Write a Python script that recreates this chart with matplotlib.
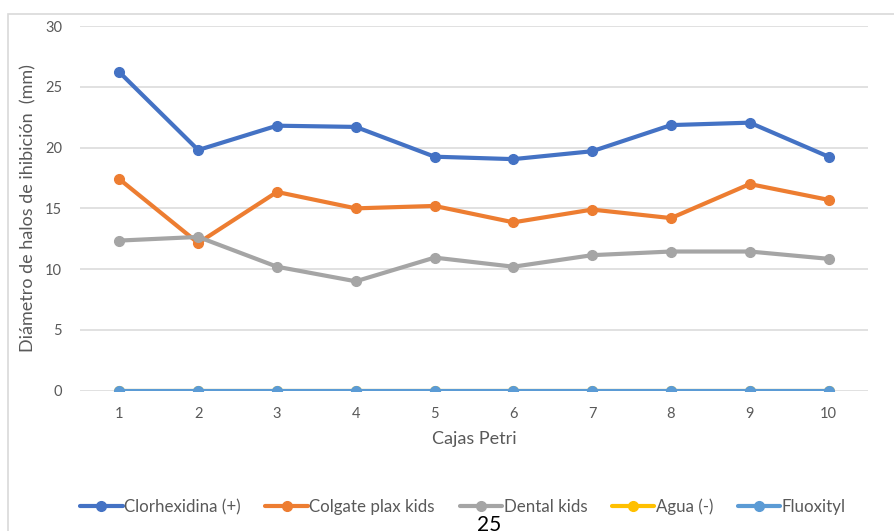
import matplotlib
matplotlib.use("Agg")
import matplotlib.pyplot as plt
from matplotlib.patches import Rectangle

plt.rcParams['font.family'] = ['Lato', 'DejaVu Sans']

# Datos
cajas = [1, 2, 3, 4, 5, 6, 7, 8, 9, 10]
clorhexidina = [26.2, 19.8, 21.8, 21.7, 19.25, 19.05, 19.7, 21.85, 22.05, 19.25]
colgate = [17.4, 12.15, 16.35, 15.0, 15.2, 13.85, 14.9, 14.2, 17.0, 15.7]
dental = [12.35, 12.65, 10.2, 9.0, 10.95, 10.2, 11.15, 11.45, 11.45, 10.85]
agua = [0, 0, 0, 0, 0, 0, 0, 0, 0, 0]
fluoxityl = [0, 0, 0, 0, 0, 0, 0, 0, 0, 0]

series = [
    ("Clorhexidina (+)", clorhexidina, "#4472C4"),
    ("Colgate plax kids", colgate, "#ED7D31"),
    ("Dental kids", dental, "#A5A5A5"),
    ("Agua (-)", agua, "#FFC000"),
    ("Fluoxityl", fluoxityl, "#5B9BD5"),
]

fig = plt.figure(figsize=(8.95, 5.31), dpi=100)
ax = fig.add_axes([0.0894, 0.2642, 0.8804, 0.6868])

for nombre, valores, color in series:
    ax.plot(cajas, valores, color=color, linewidth=3, marker='o',
            markersize=7, label=nombre, solid_capstyle='round', zorder=3)

ax.set_xlim(0.5, 10.5)
ax.set_ylim(0, 30)
ax.set_yticks(range(0, 31, 5))
ax.set_xticks(cajas)
ax.grid(axis='y', color='#D9D9D9', linewidth=1.1)
ax.set_axisbelow(True)
for s in ax.spines.values():
    s.set_visible(False)
ax.tick_params(length=0, colors='#595959', labelsize=10.5, pad=13)
ax.tick_params(axis='x', pad=12)

ax.set_xlabel("Cajas Petri", color='#595959', fontsize=13, labelpad=7)
ax.set_ylabel("Diámetro de halos de ihibición  (mm)", color='#595959',
              fontsize=13, labelpad=6)

# borde del área del gráfico
fig.patches.append(Rectangle((8 / 895, -0.05), 1.1, 1 - 14 / 531 + 0.05,
                             transform=fig.transFigure, fill=False,
                             edgecolor='#D9D9D9', linewidth=1.2))

fig.legend(loc='center', bbox_to_anchor=(463 / 895, 1 - 507 / 531), ncol=5,
           frameon=False, fontsize=12.2, handlelength=2.5, handletextpad=0.1,
           columnspacing=1.45, labelcolor='#595959')

# número de página cortado
fig.text(0.547, 1 - 515 / 531, "25", fontsize=15, va='top', ha='center',
         color='black')

fig.savefig("out.png", dpi=100)
